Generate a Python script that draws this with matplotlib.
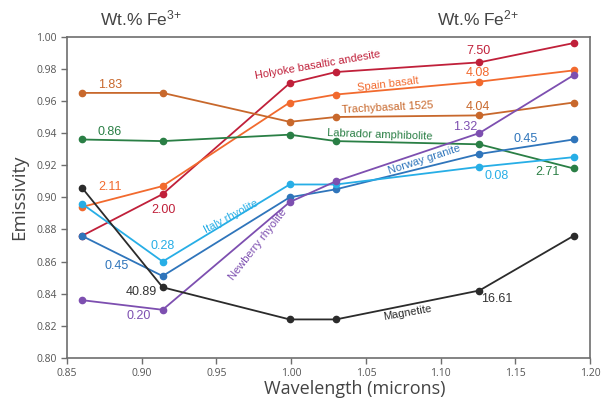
import matplotlib
matplotlib.use("Agg")
import matplotlib.pyplot as plt

plt.rcParams["mathtext.fontset"] = "custom"
plt.rcParams["mathtext.rm"] = "Liberation Sans"
plt.rcParams["mathtext.it"] = "Liberation Sans:italic"
plt.rcParams["mathtext.bf"] = "Liberation Sans:bold"

wavelength = [0.860, 0.914, 0.999, 1.030, 1.126, 1.189]

holyoke = [0.876, 0.902, 0.971, 0.978, 0.984, 0.996]
spain = [0.894, 0.907, 0.959, 0.964, 0.972, 0.979]
trachy = [0.965, 0.965, 0.947, 0.950, 0.951, 0.959]
labrador = [0.936, 0.935, 0.939, 0.935, 0.933, 0.918]
norway = [0.876, 0.851, 0.900, 0.905, 0.927, 0.936]
italy = [0.896, 0.860, 0.908, 0.908, 0.919, 0.925]
newberry = [0.836, 0.830, 0.897, 0.910, 0.940, 0.976]
magnetite = [0.906, 0.844, 0.824, 0.824, 0.842, 0.876]

fe3_labels = ["1.83", "0.86", "2.11", "2.00", "0.28", "0.45", "40.89", "0.20"]
fe2_labels = ["7.50", "4.08", "4.04", "1.32", "0.45", "0.08", "2.71", "16.61"]

series_names = ["Holyoke basaltic andesite", "Spain basalt", "Trachybasalt 1525",
                "Labrador amphibolite", "Norway granite", "Italy rhyolite",
                "Newberry rhyolite", "Magnetite"]

c_holy = "#c0203a"
c_spain = "#f26a2e"
c_trachy = "#c8682c"
c_lab = "#2a7f45"
c_nor = "#2f75bb"
c_ita = "#27aee6"
c_new = "#7d4fb0"
c_mag = "#2b2b2b"

fig = plt.figure(figsize=(6.02, 4.03), dpi=100)
ax = fig.add_axes([0.1113, 0.1117, 0.8687, 0.7973])

series = [(holyoke, c_holy), (spain, c_spain), (trachy, c_trachy), (labrador, c_lab),
          (norway, c_nor), (italy, c_ita), (newberry, c_new), (magnetite, c_mag)]
for ys, c in series:
    ax.plot(wavelength, ys, color=c, lw=1.3, marker="o", ms=4.5, zorder=3)

ax.set_xlim(0.85, 1.20)
ax.set_ylim(0.80, 1.00)
ax.set_xticks([0.85, 0.90, 0.95, 1.00, 1.05, 1.10, 1.15, 1.20])
ax.set_yticks([0.80 + 0.02 * i for i in range(11)])
ax.xaxis.set_major_formatter(matplotlib.ticker.FormatStrFormatter("%.2f"))
ax.yaxis.set_major_formatter(matplotlib.ticker.FormatStrFormatter("%.2f"))
for s in ax.spines.values():
    s.set_color("#6e6e6e")
    s.set_linewidth(1.2)
ax.tick_params(direction="out", length=4, width=1, color="#6e6e6e",
               labelsize=7.5, labelcolor="#555555")
for lab in ax.get_xticklabels() + ax.get_yticklabels():
    lab.set_fontfamily("Open Sans")

ax.set_xlabel("Wavelength (microns)", fontsize=13, color="#444444",
              fontfamily="Open Sans")
ax.xaxis.set_label_coords((355 - 67) / 523, -0.068)
ax.set_ylabel("Emissivity", fontsize=13.5, color="#444444",
              fontfamily="Open Sans", labelpad=6)

tf = "Liberation Sans"
fig.text(141 / 602, 1 - 18 / 403, "Wt.% Fe$^{3{+}}$", fontsize=12.5, color="#444444",
         ha="center", va="center", fontfamily=tf)
fig.text(478 / 602, 1 - 18 / 403, "Wt.% Fe$^{2{+}}$", fontsize=12.5, color="#444444",
         ha="center", va="center", fontfamily=tf)

# numeric annotations (pixel positions)
def ptext(px, py, s, c, rot=0, size=8.5):
    fig.text(px / 602, 1 - py / 403, s, color=c, fontsize=size, ha="center",
             va="center", rotation=rot, fontfamily=tf, zorder=5,
             rotation_mode="anchor")

fe3_pos = [(110, 85, c_trachy), (110, 132, c_lab), (110, 187, c_spain),
           (164, 210, c_holy), (163, 246, c_ita), (117, 266, c_nor),
           (141, 292, "#333333"), (139, 316, c_new)]
for (px, py, c), s in zip(fe3_pos, fe3_labels):
    ptext(px, py, s, c, size=9)

fe2_pos = [(478, 51, c_holy), (478, 73, c_spain), (478, 107, c_trachy),
           (465, 127, c_new), (526, 139, c_nor), (497, 176, c_ita),
           (548, 172, c_lab), (497, 299, "#333333")]
for (px, py, c), s in zip(fe2_pos, fe2_labels):
    ptext(px, py, s, c, size=9)

name_pos = [(318, 65, c_holy, 10), (388, 84, c_spain, 7), (387, 108, c_trachy, 3),
            (380, 135, c_lab, -2), (424, 160, c_nor, 18), (231, 217, c_ita, 28),
            (258, 245, c_new, 52), (407, 313, c_mag, 10)]
for (px, py, c, r), s in zip(name_pos, series_names):
    ptext(px, py, s, c, rot=r, size=8)

fig.savefig("out.png", dpi=100)
